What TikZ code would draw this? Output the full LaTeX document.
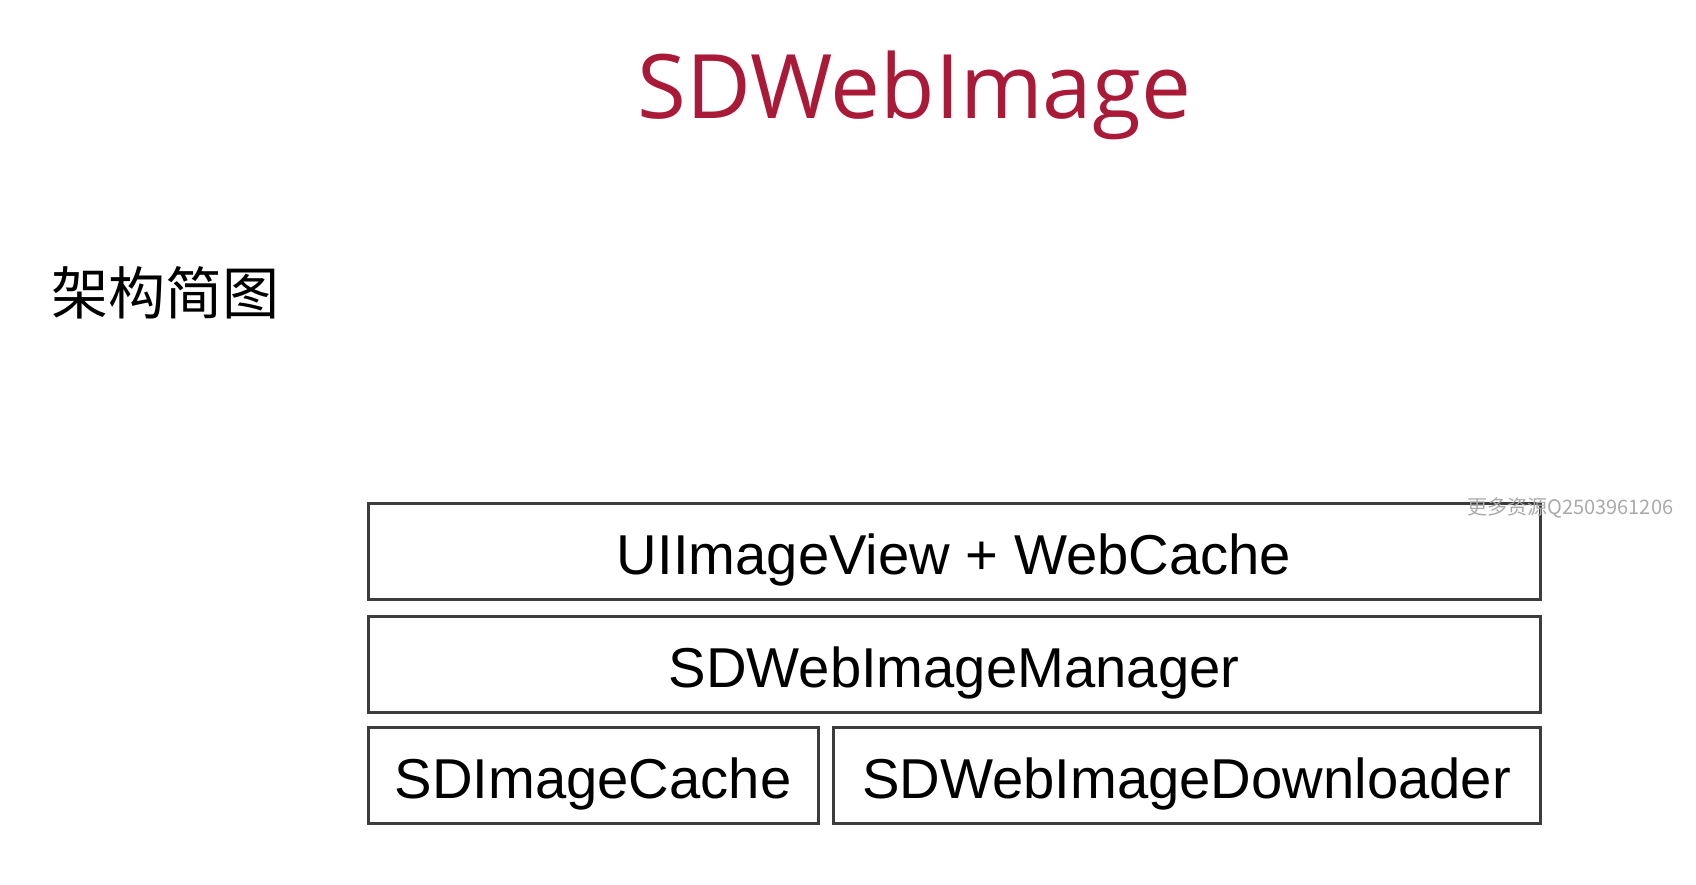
\documentclass[tikz,border=0pt]{standalone}
\usepackage{fontspec}
\setmainfont{Liberation Sans}
\newfontfamily\cjk{Noto Sans CJK SC}
\newfontfamily\titlefont{Open Sans}
\definecolor{titlered}{RGB}{168,26,56}
\definecolor{boxline}{RGB}{60,60,60}
\definecolor{markgray}{RGB}{170,170,170}
\tikzset{
  layer/.style={draw=boxline, line width=1.5pt, inner sep=0pt,
                minimum height=48pt, text height=23pt, text depth=0pt,
                font=\fontsize{28.1}{30}\selectfont}
}

\begin{document}
\begin{tikzpicture}[x=0.5pt, y=-0.5pt]
\useasboundingbox (0,0) rectangle (1696,884);

%% 标题
\node[anchor=base, text=titlered, inner sep=0pt,
      font=\titlefont\fontsize{44.5}{48}\selectfont] (title) at (914,118) {SDWebImage};
\node[anchor=base west, inner sep=0pt,
      font=\cjk\fontsize{28.5}{30}\selectfont] (subtitle) at (51,314) {架构简图};

%% 层次
\node[layer, minimum width=586pt] (view) at (954,551) {UIImageView + WebCache};
\node[layer, minimum width=586pt] (manager) at (954,664) {SDWebImageManager};
\node[layer, minimum width=225pt] (cache) at (593,775.5) {SDImageCache};
\node[layer, minimum width=353.5pt] (downloader) at (1186.5,775.5) {SDWebImageDownloader};

% 水印
\node[anchor=base west, inner sep=0pt, text=markgray,
      font=\cjk\fontsize{10}{11}\selectfont] (mark) at (1467,514) {更多资源Q2503961206};
\end{tikzpicture}
\end{document}
